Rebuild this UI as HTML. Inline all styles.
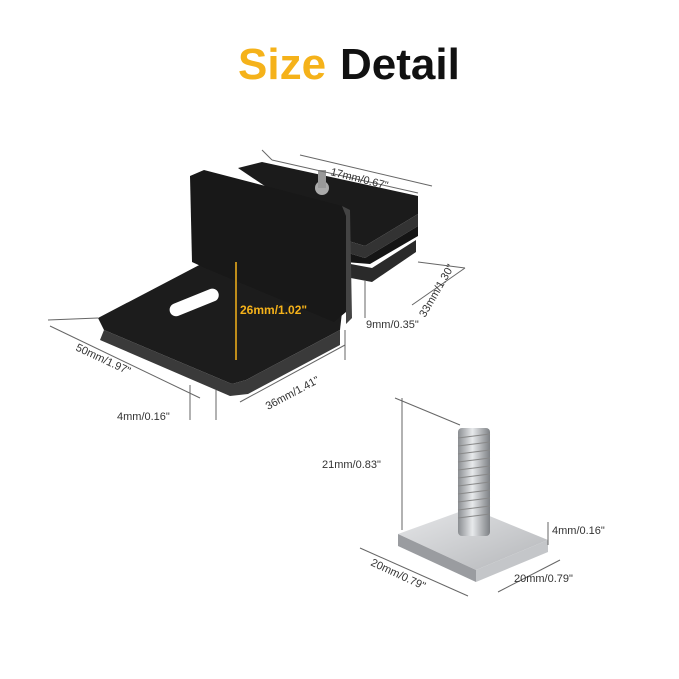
<!DOCTYPE html>
<html><head><meta charset="utf-8"><style>
html,body{margin:0;padding:0;background:#fff;}
svg{display:block;}
text{font-family:"Liberation Sans",sans-serif;}
</style></head><body>
<svg width="679" height="679" viewBox="0 0 679 679" xmlns="http://www.w3.org/2000/svg">
<defs>
<linearGradient id="bolt" x1="0" x2="1"><stop offset="0" stop-color="#8a8d91"/><stop offset="0.45" stop-color="#e8eaec"/><stop offset="1" stop-color="#7d8084"/></linearGradient>
<linearGradient id="sq" x1="0" y1="0" x2="1" y2="1"><stop offset="0" stop-color="#e6e7e9"/><stop offset="1" stop-color="#b4b6b9"/></linearGradient>
</defs>
<text x="238" y="79" font-size="44" font-weight="bold" fill="#F5B21A">Size</text>
<text x="340" y="79" font-size="44" font-weight="bold" fill="#111">Detail</text>

<polygon points="238,168 262,162 418,196 418,214 365,246 345,240" fill="#1b1b1b"/>
<polygon points="345,240 365,246 418,214 418,226 365,258 345,252" fill="#333"/>
<polygon points="345,252 365,258 418,226 418,236 370,264 345,262" fill="#151515"/>
<polygon points="340,262 372,268 416,240 416,252 372,282 340,276" fill="#2a2a2a"/>
<polygon points="98,318 205,262 342,312 340,330 246,380 232,384 104,330" fill="#1c1c1c"/>
<polygon points="104,330 232,384 246,380 340,330 340,345 248,394 230,396 100,340" fill="#3a3a3a"/>
<rect x="168" y="296" width="52" height="13" rx="6.5" transform="rotate(-22 194 302)" fill="#fff"/>
<polygon points="190,176 204,170 342,206 346,216 346,312 334,322 205,268 192,262" fill="#181818"/>
<polygon points="342,206 350,210 352,318 346,324 346,216" fill="#444"/>
<circle cx="322" cy="188" r="7" fill="#aaa"/><rect x="318" y="170" width="8" height="18" fill="#999"/>

<g stroke="#666" stroke-width="1" fill="none">
<line x1="272" y1="160" x2="418" y2="193"/><line x1="262" y1="150" x2="272" y2="160"/>
<line x1="300" y1="155" x2="432" y2="186"/>
<line x1="418" y1="262" x2="465" y2="268"/><line x1="465" y1="268" x2="412" y2="305"/>
<line x1="50" y1="326" x2="200" y2="398"/><line x1="48" y1="320" x2="98" y2="318"/>
<line x1="190" y1="385" x2="190" y2="420"/><line x1="216" y1="390" x2="216" y2="420"/>
<line x1="240" y1="402" x2="345" y2="345"/><line x1="345" y1="330" x2="345" y2="360"/>
<line x1="365" y1="280" x2="365" y2="318"/>
</g>
<line x1="236" y1="262" x2="236" y2="360" stroke="#F5B21A" stroke-width="1.5"/>
<text x="330" y="175" font-size="11" fill="#333" transform="rotate(14 330 175)">17mm/0.67"</text>
<text x="425" y="318" font-size="11" fill="#333" transform="rotate(-60 425 318)">33mm/1.30"</text>
<text x="366" y="328" font-size="11" fill="#333">9mm/0.35"</text>
<text x="240" y="314" font-size="12" font-weight="bold" fill="#F5B21A">26mm/1.02"</text>
<text x="75" y="350" font-size="11" fill="#333" transform="rotate(25 75 350)">50mm/1.97"</text>
<text x="117" y="420" font-size="11" fill="#333">4mm/0.16"</text>
<text x="268" y="410" font-size="11" fill="#333" transform="rotate(-28 268 410)">36mm/1.41"</text>

<polygon points="398,534 470,508 548,540 476,570" fill="url(#sq)"/>
<polygon points="398,534 476,570 476,582 398,546" fill="#9a9ca0"/>
<polygon points="476,570 548,540 548,552 476,582" fill="#c4c6c9"/>
<rect x="458" y="428" width="32" height="108" rx="4" fill="url(#bolt)"/>
<g stroke="#888" stroke-width="1">
<line x1="458" y1="438" x2="490" y2="434"/><line x1="458" y1="446" x2="490" y2="442"/><line x1="458" y1="454" x2="490" y2="450"/><line x1="458" y1="462" x2="490" y2="458"/><line x1="458" y1="470" x2="490" y2="466"/><line x1="458" y1="478" x2="490" y2="474"/><line x1="458" y1="486" x2="490" y2="482"/><line x1="458" y1="494" x2="490" y2="490"/><line x1="458" y1="502" x2="490" y2="498"/><line x1="458" y1="510" x2="490" y2="506"/><line x1="458" y1="518" x2="490" y2="514"/>
</g>
<g stroke="#666" stroke-width="1" fill="none">
<line x1="402" y1="398" x2="402" y2="530"/><line x1="395" y1="398" x2="460" y2="425"/>
<line x1="548" y1="522" x2="548" y2="545"/>
<line x1="360" y1="548" x2="468" y2="596"/>
<line x1="498" y1="592" x2="560" y2="560"/>
</g>
<text x="322" y="468" font-size="11" fill="#333">21mm/0.83"</text>
<text x="552" y="534" font-size="11" fill="#333">4mm/0.16"</text>
<text x="370" y="565" font-size="11" fill="#333" transform="rotate(25 370 565)">20mm/0.79"</text>
<text x="514" y="582" font-size="11" fill="#333">20mm/0.79"</text>
</svg>
</body></html>
